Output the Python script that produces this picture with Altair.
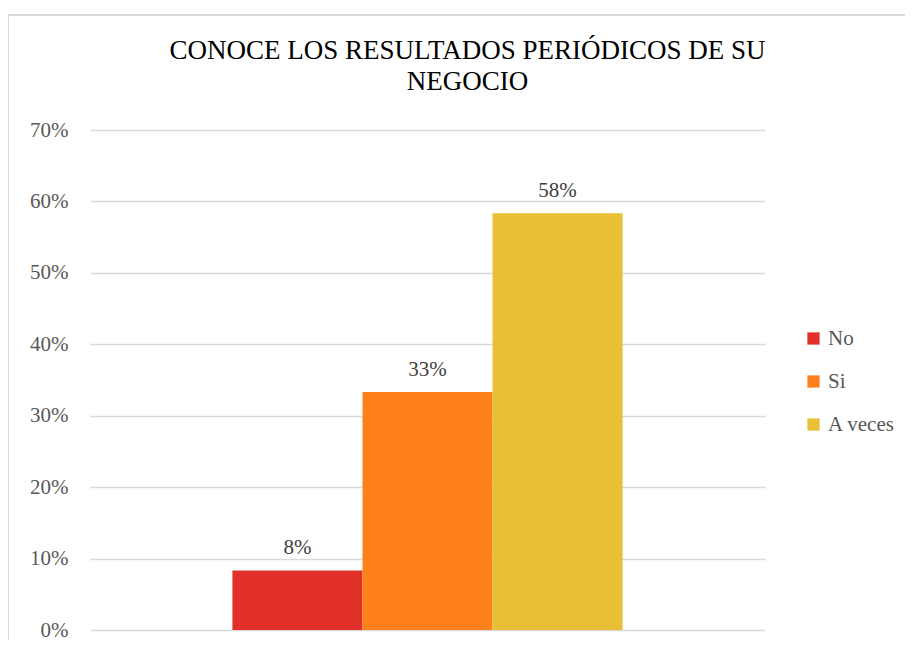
import altair as alt
import pandas as pd

categories = ["No", "Si", "A veces"]
values = [1/12, 4/12, 7/12]
labels = ["8%", "33%", "58%"]
colors = ["#E03028", "#FD801D", "#E8BF35"]

df = pd.DataFrame({"grp": ["g"] * 3, "cat": categories, "val": values, "lab": labels})

FONT = "serif"
W, H = 675, 500

x_enc = alt.X("grp:N", axis=None, scale=alt.Scale(paddingInner=0, paddingOuter=0.365))
xo_enc = alt.XOffset("cat:N", sort=categories, scale=alt.Scale(paddingInner=0, paddingOuter=0))
y_enc = alt.Y("val:Q", scale=alt.Scale(domain=[0, 0.7], nice=False),
              axis=alt.Axis(format=".0%", values=[0, 0.1, 0.2, 0.3, 0.4, 0.5, 0.6, 0.7],
                            title=None, domain=False, ticks=False, labelPadding=22,
                            labelFont=FONT, labelFontSize=21, labelColor="#595959",
                            gridColor="#d9d9d9", gridWidth=1.5))

frame = alt.Chart(df).mark_rect(fill=None, stroke="#d9d9d9", strokeWidth=2).encode(
    x=alt.value(-82), x2=alt.value(W + 200), y=alt.value(-115), y2=alt.value(H + 200)
)

bars = alt.Chart(df).mark_bar().encode(
    x=x_enc, xOffset=xo_enc, y=y_enc,
    color=alt.Color("cat:N", sort=categories,
                    scale=alt.Scale(domain=categories, range=colors),
                    legend=alt.Legend(title=None, orient="none", legendX=713, legendY=198,
                                      symbolType="square", symbolSize=150, symbolStrokeWidth=0,
                                      labelFont=FONT, labelFontSize=21,
                                      labelColor="#595959",
                                      rowPadding=21, labelOffset=4))
)

text = alt.Chart(df).mark_text(dy=-12, baseline="bottom", font=FONT, fontSize=21,
                               color="#404040").encode(
    x=x_enc, xOffset=xo_enc, y="val:Q", text="lab:N"
)

chart = alt.layer(frame, bars, text).properties(
    width=W, height=H,
    title=alt.TitleParams(["CONOCE LOS RESULTADOS PERIÓDICOS DE SU", "NEGOCIO"],
                          font=FONT, fontSize=27, fontWeight="normal", color="#000000",
                          anchor="middle", frame="group", dx=40, offset=-82, lineHeight=31),
    autosize=alt.AutoSizeParams(type="none"),
    padding={"left": 82, "top": 122, "right": 140, "bottom": 10},
    background="white",
).configure_view(strokeWidth=0, stroke=None)

chart.save("out.html", embed_options={"renderer": "svg", "actions": False})
